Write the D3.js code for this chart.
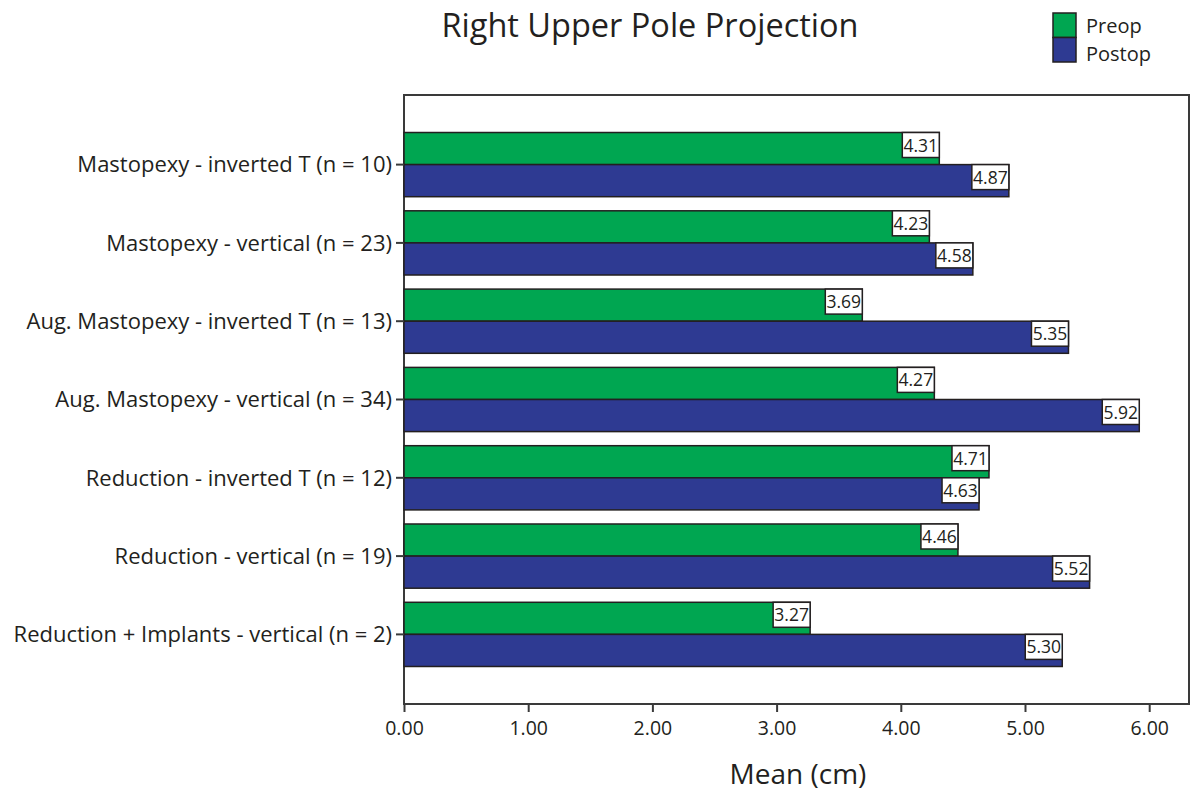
<!DOCTYPE html>
<html><head><meta charset="utf-8">
<script src="https://cdn.jsdelivr.net/npm/d3@7"></script>
<style>body{margin:0;background:#fff}svg{display:block}text{font-family:"Open Sans",sans-serif;fill:#231f20}</style>
</head><body><svg id="c" width="1191" height="795"></svg>
<script>
const categories = ["Mastopexy - inverted T (n = 10)","Mastopexy - vertical (n = 23)","Aug. Mastopexy - inverted T (n = 13)","Aug. Mastopexy - vertical (n = 34)","Reduction - inverted T (n = 12)","Reduction - vertical (n = 19)","Reduction + Implants - vertical (n = 2)"];
const seriesNames = ["Preop","Postop"];
const preop = [4.31,4.23,3.69,4.27,4.71,4.46,3.27];
const postop = [4.87,4.58,5.35,5.92,4.63,5.52,5.30];
const xTicks = [0,1,2,3,4,5,6];
const colors = ["#00a651","#2e3a92"];

const svg = d3.select("#c");
const L=404, R=1189, T=95, B=704;
const x = d3.scaleLinear().domain([0,6]).range([L, L+6*124.2]);
const y = d3.scaleBand().domain(categories).range([T,B]).paddingInner(0.18).paddingOuter(0.479);
const ys = d3.scaleBand().domain(seriesNames).range([0,y.bandwidth()]);

svg.append("rect").attr("x",L).attr("y",T).attr("width",R-L).attr("height",B-T)
  .attr("fill","none").attr("stroke","#3a3a3a").attr("stroke-width",2);

const data = [];
categories.forEach((c,i)=>{data.push({c,s:"Preop",v:preop[i]});data.push({c,s:"Postop",v:postop[i]});});

svg.append("g").selectAll("rect").data(data).join("rect")
  .attr("x",x(0)).attr("y",d=>y(d.c)+ys(d.s)).attr("width",d=>x(d.v)-x(0)).attr("height",ys.bandwidth())
  .attr("fill",d=>colors[seriesNames.indexOf(d.s)]).attr("stroke","#231f20").attr("stroke-width",1.5);

const lab = svg.append("g").selectAll("g").data(data).join("g")
  .attr("transform",d=>`translate(${x(d.v)},${y(d.c)+ys(d.s)})`);
lab.append("rect").attr("x",-37).attr("y",0).attr("width",37).attr("height",25)
  .attr("fill","#fff").attr("stroke","#231f20").attr("stroke-width",1.5);
lab.append("text").attr("x",-18.5).attr("y",19).attr("text-anchor","middle").attr("font-size",17.5)
  .text(d=>d.v.toFixed(2));

const xa = svg.append("g").attr("transform",`translate(0,${B})`)
  .call(d3.axisBottom(x).tickValues(xTicks).tickFormat(d3.format(".2f")).tickSize(8).tickSizeOuter(0));
xa.select(".domain").remove();
xa.selectAll("line").attr("stroke","#3a3a3a").attr("stroke-width",2);
xa.selectAll("text").attr("font-size",19.5).attr("dy","1.05em").attr("fill","#231f20");

const ya = svg.append("g").attr("transform",`translate(${L},0)`)
  .call(d3.axisLeft(y).tickSize(8).tickSizeOuter(0).tickPadding(4));
ya.select(".domain").remove();
ya.selectAll("line").attr("stroke","#3a3a3a").attr("stroke-width",2);
ya.selectAll("text").attr("font-size",22).attr("fill","#231f20").attr("dy","0.35em");

svg.append("text").attr("x",650).attr("y",37).attr("text-anchor","middle").attr("font-size",32.5).text("Right Upper Pole Projection");
svg.append("text").attr("x",798).attr("y",784).attr("text-anchor","middle").attr("font-size",28).text("Mean (cm)");

const lg = svg.append("g").attr("transform","translate(1053,13)");
seriesNames.forEach((s,i)=>{
  lg.append("rect").attr("x",0).attr("y",i*24.5).attr("width",23).attr("height",24.5).attr("fill",colors[i]).attr("stroke","#231f20").attr("stroke-width",1.5);
  lg.append("text").attr("x",33).attr("y",i*28+20).attr("font-size",20).text(s);
});
</script></body></html>
